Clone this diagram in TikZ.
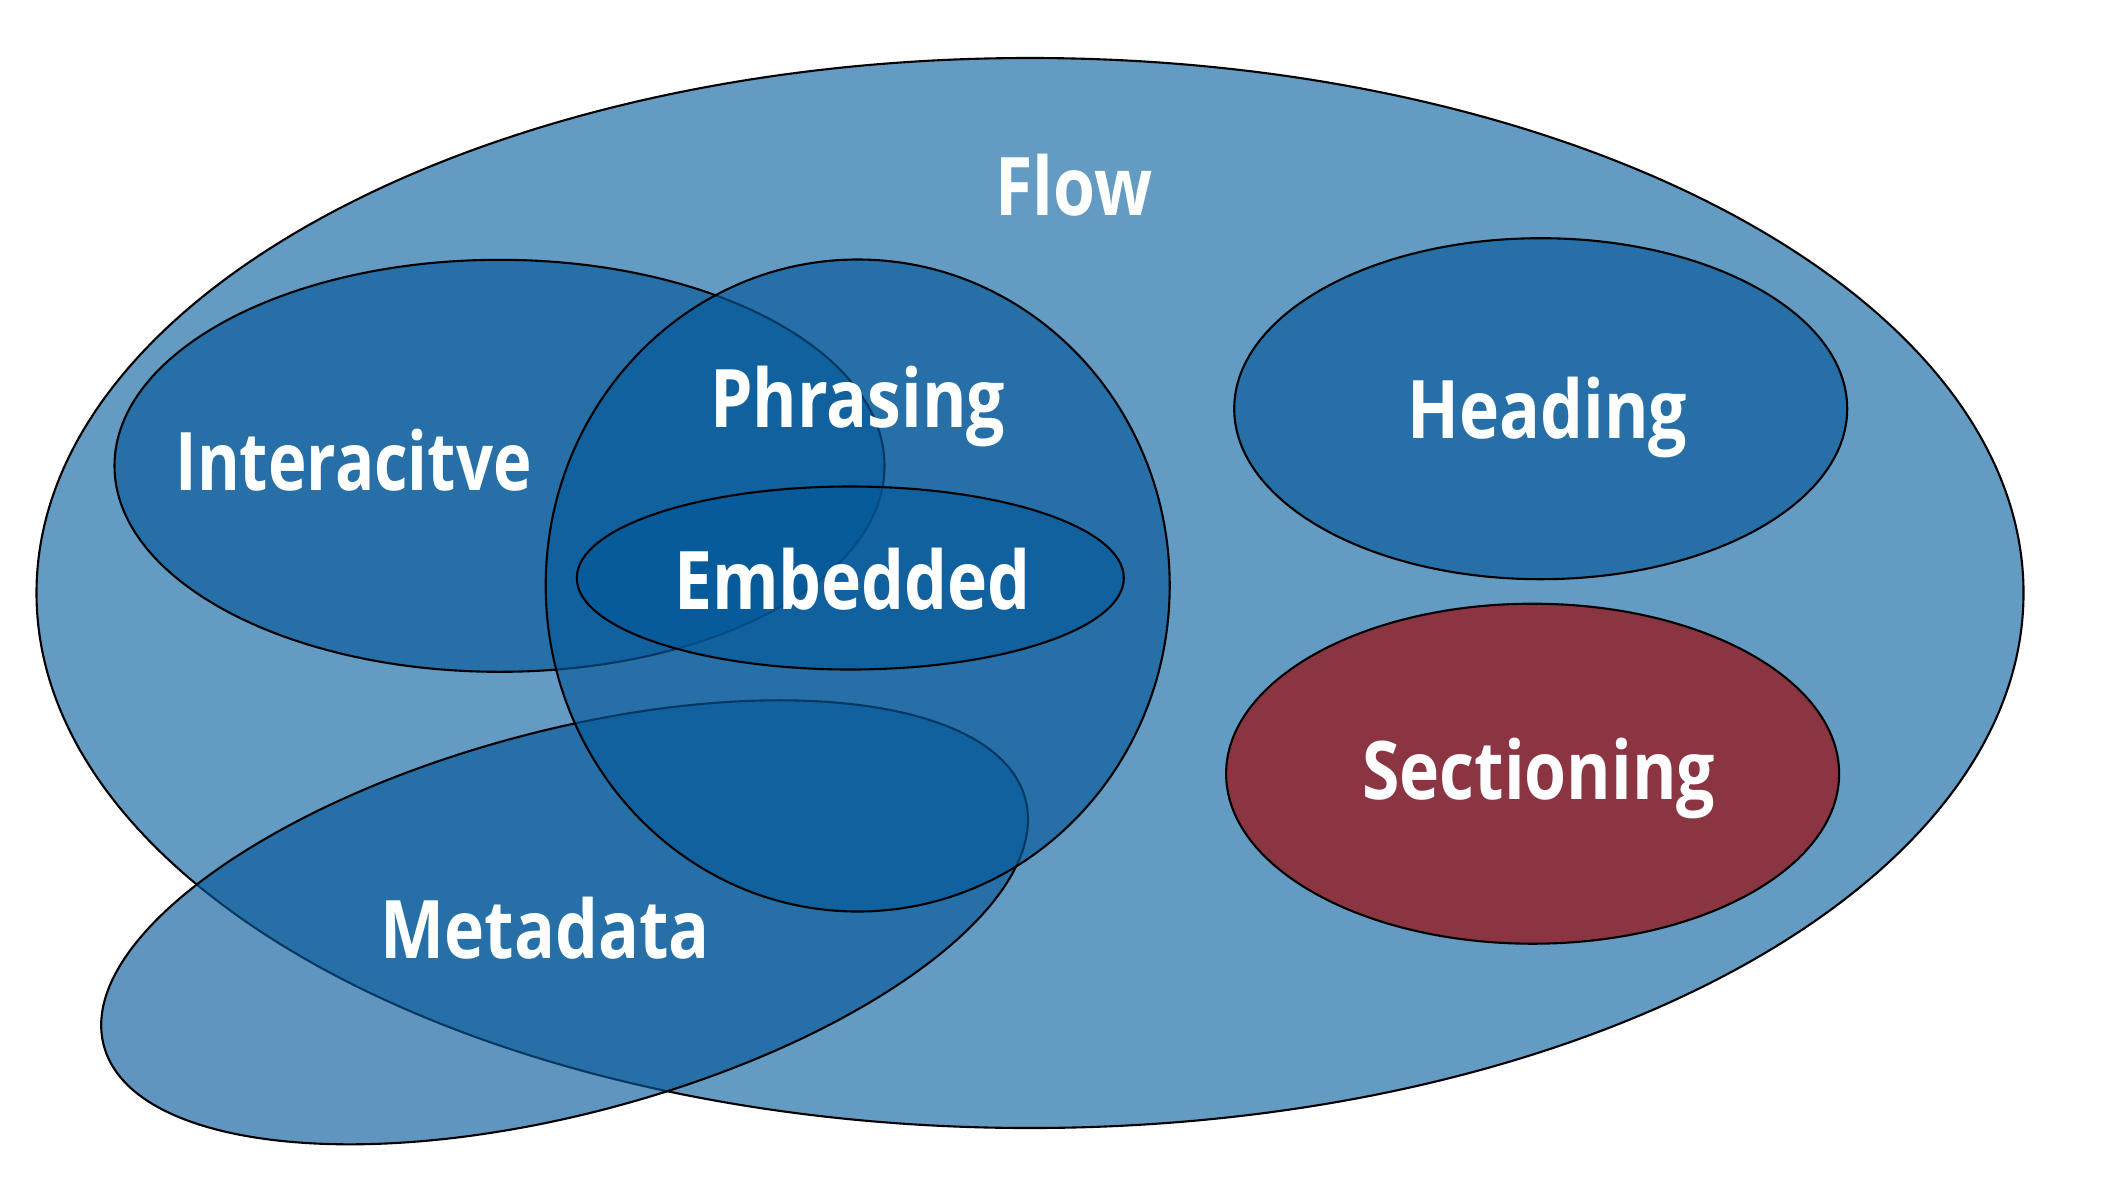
\documentclass[tikz,border=0pt]{standalone}
\usepackage{fontspec}
\newfontfamily\vennfont[FakeStretch=0.84]{Open Sans}
\usepackage{tikz}
\usetikzlibrary{shapes.geometric}
\definecolor{flowblue}{RGB}{99,155,194}
\definecolor{setblue}{RGB}{4,89,153}
\definecolor{secred}{RGB}{139,53,67}
\tikzset{
  venn/.style={
    ellipse,
    draw=black,
    line width=0.6pt,
    inner sep=0pt
  },
  vennflow/.style={venn,fill=flowblue},
  vennset/.style={venn,fill=setblue,fill opacity=0.64},
  vennsec/.style={venn,fill=secred},
  vennlabel/.style={text=white,anchor=base,inner sep=0pt,
                    font=\vennfont\bfseries\fontsize{23}{27}\selectfont}
}

\begin{document}
\begin{tikzpicture}[x=1cm,y=1cm]
  \path[use as bounding box] (0,0) rectangle (21.08,-11.92);

  % outer set and overlapping categories
  \node[vennflow,minimum width=19.87cm,minimum height=10.70cm] (flow) at (10.30,-5.93) {};
  \node[vennset,minimum width=7.70cm,minimum height=4.12cm] (inter) at (4.995,-4.658) {};
  \node[vennset,rotate=15,minimum width=9.54cm,minimum height=3.82cm] (meta) at (5.646,-9.223) {};
  \node[vennset,minimum width=6.24cm,minimum height=6.52cm] (phrase) at (8.577,-5.855) {};
  \node[vennset,minimum width=5.47cm,minimum height=1.83cm] (embed) at (8.503,-5.78) {};
  \node[vennset,minimum width=6.13cm,minimum height=3.41cm] (head) at (15.407,-4.087) {};
  \node[vennsec,minimum width=6.13cm,minimum height=3.40cm] (sect) at (15.326,-7.737) {};

  % labels
  \node[vennlabel] (flowlbl) at (10.74,-2.15) {Flow};
  \node[vennlabel,xscale=0.96,transform shape] (interlbl) at (3.536,-4.907) {Interacitve};
  \node[vennlabel] (phraselbl) at (8.577,-4.275) {Phrasing};
  \node[vennlabel] (embedlbl) at (8.524,-6.090) {Embedded};
  \node[vennlabel] (headlbl) at (15.474,-4.383) {Heading};
  \node[vennlabel] (sectlbl) at (15.387,-7.999) {Sectioning};
  \node[vennlabel] (metalbl) at (5.452,-9.586) {Metadata};
\end{tikzpicture}
\end{document}
